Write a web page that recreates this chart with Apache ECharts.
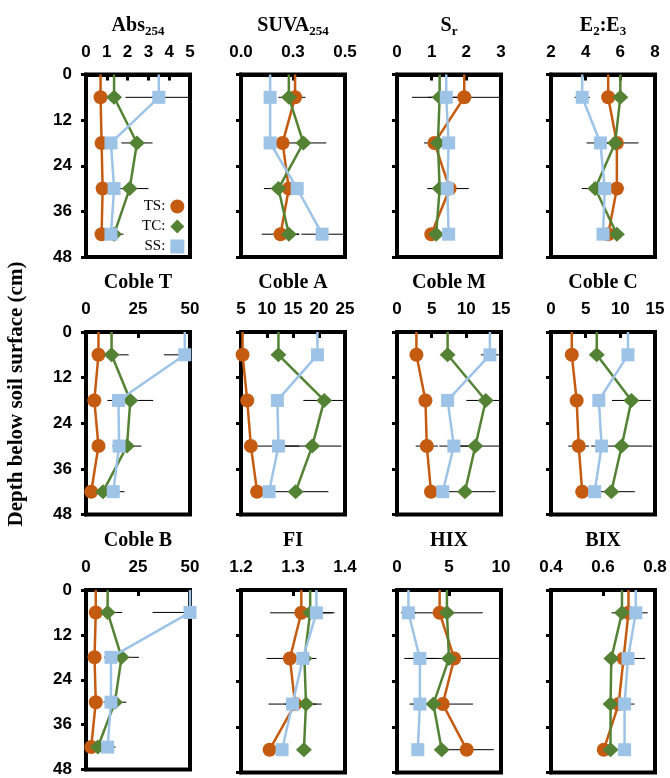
<!DOCTYPE html>
<html><head><meta charset="utf-8">
<script src="https://cdn.jsdelivr.net/npm/echarts@6/dist/echarts.min.js"></script>
<style>html,body{margin:0;padding:0;background:#fff}#c{width:670px;height:778px}</style>
</head><body><div id="c"></div>
<script>
// Depths (cm)
const depths = [6, 18, 30, 42];
const depthTicks = [0, 12, 24, 36, 48];

// Abs254
const abs_TS = [0.70, 0.75, 0.80, 0.75];
const abs_TC = [1.35, 2.45, 2.10, 1.35];
const abs_SS = [3.50, 1.20, 1.35, 1.20];
const abs_eTS = [0.1, 0.1, 0.1, 0.1];
const abs_eTC = [0.3, 0.75, 0.9, 0.45];
const abs_eSS = [1.6, 0.3, 0.3, 0.2];
// SUVA254
const suva_TS = [0.26, 0.20, 0.23, 0.19];
const suva_TC = [0.23, 0.30, 0.18, 0.23];
const suva_SS = [0.14, 0.14, 0.27, 0.39];
const suva_eTS = [0.05, 0.03, 0.04, 0.09];
const suva_eTC = [0.05, 0.11, 0.07, 0.05];
const suva_eSS = [0.02, 0.02, 0.03, 0.10];
// Sr
const sr_TS = [1.94, 1.08, 1.52, 0.99];
const sr_TC = [1.23, 1.18, 1.23, 1.13];
const sr_SS = [1.42, 1.49, 1.45, 1.49];
const sr_eTS = [1.05, 0.30, 0.55, 0.10];
const sr_eTC = [0.80, 0.10, 0.36, 0.10];
const sr_eSS = [0.10, 0.10, 0.10, 0.10];
// E2:E3
const e23_TS = [5.3, 5.8, 5.8, 5.3];
const e23_TC = [6.0, 5.7, 4.55, 5.8];
const e23_SS = [3.8, 4.85, 5.1, 5.0];
const e23_eTS = [0.2, 1.25, 0.42, 0.2];
const e23_eTC = [0.2, 0.3, 0.77, 0.2];
const e23_eSS = [0.44, 0.8, 0.3, 0.3];
// Coble T
const cT_TS = [6.0, 4.0, 6.0, 2.5];
const cT_TC = [12.3, 21.3, 19.7, 8.2];
const cT_SS = [47.5, 15.6, 15.9, 13.1];
const cT_eTS = [1, 1, 1, 1];
const cT_eTC = [8.2, 11, 7, 2];
const cT_eSS = [10, 2, 2, 5.4];
// Coble A
const cA_TS = [5.3, 6.2, 6.9, 8.1];
const cA_TC = [12.2, 21.0, 18.7, 15.5];
const cA_SS = [19.7, 12.0, 12.2, 10.4];
const cA_eTS = [0.3, 0.3, 0.5, 0.3];
const cA_eTC = [1.0, 4.0, 5.6, 6.3];
const cA_eSS = [0.5, 1.0, 4.0, 0.5];
// Coble M
const cM_TS = [2.8, 4.1, 4.3, 4.9];
const cM_TC = [7.3, 12.8, 11.3, 9.8];
const cM_SS = [13.4, 7.3, 8.2, 6.6];
const cM_eTS = [0.3, 0.3, 1.6, 0.3];
const cM_eTC = [0.5, 2.8, 3.6, 4.4];
const cM_eSS = [1.3, 0.5, 2.1, 0.5];
// Coble C
const cC_TS = [3.0, 3.7, 4.0, 4.5];
const cC_TC = [6.6, 11.6, 10.2, 8.7];
const cC_SS = [11.1, 6.9, 7.3, 6.3];
const cC_eTS = [0.3, 0.3, 1.5, 0.3];
const cC_eTC = [0.5, 2.8, 4.4, 3.4];
const cC_eSS = [0.5, 0.5, 0.5, 0.5];
// Coble B
const cB_TS = [4.7, 4.1, 4.7, 2.5];
const cB_TC = [10.4, 17.1, 13.9, 5.7];
const cB_SS = [50.0, 12.0, 12.0, 10.4];
const cB_eTS = [1, 1, 1, 1];
const cB_eTC = [7, 8.4, 5.5, 2];
const cB_eSS = [18, 2, 2, 3.8];
// FI
const fi_TS = [1.316, 1.294, 1.304, 1.255];
const fi_TC = [1.333, 1.322, 1.325, 1.321];
const fi_SS = [1.345, 1.319, 1.299, 1.279];
const fi_eTS = [0.06, 0.045, 0.02, 0.005];
const fi_eTC = [0.01, 0.023, 0.03, 0.005];
const fi_eSS = [0.035, 0.01, 0.046, 0.005];
// HIX
const hix_TS = [4.1, 5.5, 4.4, 6.7];
const hix_TC = [4.8, 5.0, 3.5, 4.3];
const hix_SS = [1.1, 2.2, 2.2, 2.0];
const hix_eTS = [0.5, 4.4, 2.9, 2.6];
const hix_eTC = [3.45, 0.5, 0.5, 0.5];
const hix_eSS = [0.7, 1.5, 1.0, 0.3];
// BIX
const bix_TS = [0.698, 0.679, 0.660, 0.603];
const bix_TC = [0.673, 0.632, 0.629, 0.629];
const bix_SS = [0.726, 0.696, 0.683, 0.683];
const bix_eTS = [0.01, 0.01, 0.01, 0.01];
const bix_eTC = [0.04, 0.01, 0.01, 0.01];
const bix_eSS = [0.046, 0.066, 0.038, 0.01];

const seriesKeys = ['TS', 'TC', 'SS'];
const legendLabels = ['TS:', 'TC:', 'SS:'];

const panels = [
  {title: [['Abs',0],['254',1]], min:0, max:5, interval:1, dec:0, v:[abs_TS,abs_TC,abs_SS], e:[abs_eTS,abs_eTC,abs_eSS]},
  {title: [['SUVA',0],['254',1]], min:0, max:0.5, interval:0.25, dec:1, v:[suva_TS,suva_TC,suva_SS], e:[suva_eTS,suva_eTC,suva_eSS]},
  {title: [['S',0],['r',1]], min:0, max:3, interval:1, dec:0, v:[sr_TS,sr_TC,sr_SS], e:[sr_eTS,sr_eTC,sr_eSS]},
  {title: [['E',0],['2',1],[':E',0],['3',1]], min:2, max:8, interval:2, dec:0, v:[e23_TS,e23_TC,e23_SS], e:[e23_eTS,e23_eTC,e23_eSS]},
  {title: [['Coble T',0]], min:0, max:50, interval:25, dec:0, v:[cT_TS,cT_TC,cT_SS], e:[cT_eTS,cT_eTC,cT_eSS]},
  {title: [['Coble A',0]], min:5, max:25, interval:5, dec:0, v:[cA_TS,cA_TC,cA_SS], e:[cA_eTS,cA_eTC,cA_eSS]},
  {title: [['Coble M',0]], min:0, max:15, interval:5, dec:0, v:[cM_TS,cM_TC,cM_SS], e:[cM_eTS,cM_eTC,cM_eSS]},
  {title: [['Coble C',0]], min:0, max:15, interval:5, dec:0, v:[cC_TS,cC_TC,cC_SS], e:[cC_eTS,cC_eTC,cC_eSS]},
  {title: [['Coble B',0]], min:0, max:50, interval:25, dec:0, v:[cB_TS,cB_TC,cB_SS], e:[cB_eTS,cB_eTC,cB_eSS]},
  {title: [['FI',0]], min:1.2, max:1.4, interval:0.1, dec:1, v:[fi_TS,fi_TC,fi_SS], e:[fi_eTS,fi_eTC,fi_eSS]},
  {title: [['HIX',0]], min:0, max:10, interval:5, dec:0, v:[hix_TS,hix_TC,hix_SS], e:[hix_eTS,hix_eTC,hix_eSS]},
  {title: [['BIX',0]], min:0.4, max:0.8, interval:0.2, dec:1, v:[bix_TS,bix_TC,bix_SS], e:[bix_eTS,bix_eTC,bix_eSS]}
];

const colors = ['#C55A11', '#548235', '#9DC3E6'];
const symbols = ['circle', 'diamond', 'rect'];
const symbolSizes = [14, [16, 15], 13];

const colLeft = [86, 241, 397, 551];
const rowTop = [74.5, 332, 590];
const W = 104, H = 182.5;

const tickFont = 'Liberation Sans';
const serif = 'Liberation Serif';

const grids = [], xAxes = [], yAxes = [], series = [], graphics = [];
const mctx = document.createElement('canvas').getContext('2d');

panels.forEach((p, i) => {
  const col = i % 4, row = Math.floor(i / 4);
  const left = colLeft[col], top = rowTop[row];
  grids.push({left: left, top: top, width: W, height: H, show: true, borderColor: '#000', borderWidth: 4, containLabel: false});
  xAxes.push({
    gridIndex: i, type: 'value', position: 'top', min: p.min, max: p.max, interval: p.interval,
    axisLine: {show: true, onZero: false, lineStyle: {color: '#000', width: 4}},
    axisTick: {show: true, inside: true, length: 6, lineStyle: {color: '#000', width: 3}},
    axisLabel: {show: true, margin: 14, color: '#000', fontFamily: tickFont, fontWeight: 'bold', fontSize: 17,
      showMinLabel: true, showMaxLabel: true, hideOverlap: false,
      formatter: (v) => Number(v).toFixed(p.dec)},
    splitLine: {show: false}
  });
  yAxes.push({
    gridIndex: i, type: 'value', inverse: true, min: depthTicks[0], max: depthTicks[depthTicks.length - 1], interval: 12,
    axisLine: {show: true, onZero: false, lineStyle: {color: '#000', width: 4}},
    axisTick: {show: true, inside: false, length: 5, lineStyle: {color: '#000', width: 3}},
    axisLabel: {show: col === 0, margin: 14, color: '#000', fontFamily: tickFont, fontWeight: 'bold', fontSize: 17,
      showMinLabel: true, showMaxLabel: true},
    splitLine: {show: false}
  });
  // error bars
  const errData = [];
  p.v.forEach((vals, k) => {
    vals.forEach((v, j) => { if (p.e[k][j] > 0) errData.push([v, depths[j], p.e[k][j]]); });
  });
  series.push({
    type: 'custom', name: 'err', xAxisIndex: i, yAxisIndex: i, coordinateSystem: 'cartesian2d',
    data: errData, z: 2, silent: true, encode: {x: 0, y: 1},
    renderItem: (params, api) => {
      const v = api.value(0), d = api.value(1), e = api.value(2);
      const a = api.coord([v - e, d]), b = api.coord([v + e, d]);
      const cs = params.coordSys;
      const x1 = Math.max(cs.x, Math.min(a[0], b[0]));
      const x2 = Math.min(cs.x + cs.width, Math.max(a[0], b[0]));
      return {type: 'line', shape: {x1: x1, y1: a[1], x2: x2, y2: b[1]}, style: {stroke: '#000', lineWidth: 1}};
    }
  });
  // series lines
  p.v.forEach((vals, k) => {
    const data = [{value: [vals[0], 0], symbol: 'none'}].concat(vals.map((v, j) => [v, depths[j]]));
    series.push({
      type: 'line', name: seriesKeys[k], xAxisIndex: i, yAxisIndex: i, data: data,
      symbol: symbols[k], symbolSize: symbolSizes[k], showAllSymbol: true,
      itemStyle: {color: colors[k], borderWidth: 0},
      lineStyle: {color: colors[k], width: 2.5}, z: 3 + k, silent: true
    });
  });
  // title with subscripts
  const mainFont = 'bold 20px "' + serif + '"';
  const subFont = 'bold 13px "' + serif + '"';
  let total = 0;
  const widths = p.title.map(([t, s]) => { mctx.font = s ? subFont : mainFont; const w = mctx.measureText(t).width; total += w; return w; });
  let x = left + W / 2 - total / 2;
  const ty = top - 49;
  p.title.forEach(([t, s], n) => {
    graphics.push({type: 'text', x: x, y: s ? ty + 6 : ty, silent: true,
      style: {text: t, font: s ? subFont : mainFont, fill: '#000', textAlign: 'left', textVerticalAlign: 'middle', align: 'left', verticalAlign: 'middle'}});
    x += widths[n];
  });
});

graphics.push({type: 'text', x: 17, y: 394, rotation: Math.PI / 2, silent: true,
  style: {text: 'Depth below soil surface (cm)', font: 'bold 21px "' + serif + '"', fill: '#000',
    textAlign: 'center', textVerticalAlign: 'middle', align: 'center', verticalAlign: 'middle'}});

const option = {
  animation: false,
  backgroundColor: '#fff',
  grid: grids, xAxis: xAxes, yAxis: yAxes, series: series, graphic: graphics,
  legend: {
    orient: 'vertical', align: 'right', left: 137, top: 194, itemGap: 5, itemWidth: 14, itemHeight: 14,
    selectedMode: false,
    data: [{name: 'TS', icon: 'circle'}, {name: 'TC', icon: 'diamond'}, {name: 'SS', icon: 'rect'}],
    formatter: (n) => legendLabels[seriesKeys.indexOf(n)],
    textStyle: {fontFamily: serif, fontSize: 15, color: '#000'}
  }
};
const chart = echarts.init(document.getElementById('c'), null, {renderer: 'canvas'});
chart.setOption(option);
</script></body></html>
